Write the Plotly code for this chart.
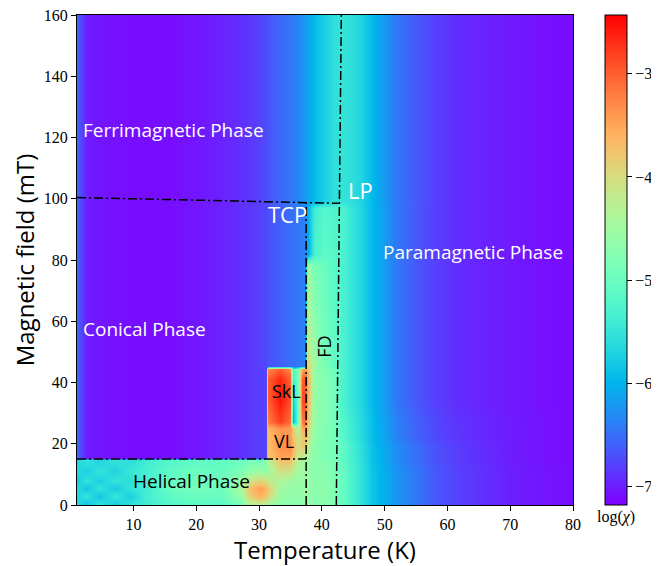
import numpy as np
import plotly.graph_objects as go

# ---------------- data ----------------
temperature_K = [1.0, 2.5, 4.5, 7, 9.5, 12, 16, 20, 24, 27, 28.5, 30,
                 31.1, 31.5, 33.3, 35.0, 35.4, 36.2, 36.9, 37.3,
                 37.8, 38.8, 40.3, 41.8,
                 43.0, 44.5, 46, 48, 50, 52, 55, 58, 62, 66, 70, 75, 80]
field_mT = [0, 3, 5.5, 8, 11, 14.7, 15.3, 19, 23, 25, 27, 34, 41, 44.5,
            45.5, 50, 60, 78, 82, 97, 99, 120, 160]

# column segments: A = T 1..30, B = T 31..37.3, C = T 37.8..41.8, D = T 43..80
A_conical = [-6.55, -7.0, -7.06, -7.08, -7.1, -7.1, -7.1, -7.05, -6.98, -6.9, -6.85, -6.8]
B_upper = [-6.75, -6.7, -6.6, -6.5, -6.48, -6.44, -6.4, -6.38]
B_top = [-6.72, -6.68, -6.55, -6.45, -6.42, -6.35, -6.28, -6.22]
C_top = [-6.1, -5.95, -5.75, -5.58]
D_helical = [-5.0, -5.25, -5.5, -5.85, -6.05, -6.25, -6.45, -6.65, -6.8, -6.9, -7.0, -7.06, -7.1]
D_vl = [-5.05, -5.3, -5.54, -5.88, -6.09, -6.3, -6.5, -6.69, -6.83, -6.92, -7.01, -7.07, -7.11]
D_mid = [-5.15, -5.38, -5.6, -5.92, -6.15, -6.38, -6.58, -6.75, -6.88, -6.95, -7.02, -7.07, -7.11]
D_upper = [-5.25, -5.45, -5.65, -5.95, -6.2, -6.45, -6.65, -6.8, -6.92, -6.98, -7.03, -7.08, -7.12]
D_top = [-5.5, -5.55, -5.68, -5.95, -6.22, -6.44, -6.64, -6.8, -6.92, -6.98, -7.03, -7.08, -7.12]

log_chi = [
    [-5.6, -5.9, -5.5, -5.8, -5.5, -5.4, -5.2, -5.1, -5.15, -4.95, -4.4, -4.3]
    + [-4.4, -4.6, -4.7, -4.7, -4.7, -4.7, -4.65, -4.6] + [-4.6, -4.75, -4.7, -4.8] + D_helical,
    [-5.7, -5.5, -5.85, -5.45, -5.75, -5.35, -5.1, -5.0, -5.05, -4.6, -3.85, -3.6]
    + [-3.75, -3.95, -4.55, -4.6, -4.65, -4.65, -4.6, -4.55] + [-4.6, -4.75, -4.65, -4.8] + D_helical,
    [-5.6, -5.85, -5.5, -5.8, -5.5, -5.4, -5.0, -4.9, -5.0, -4.45, -3.7, -3.45]
    + [-3.6, -3.8, -4.5, -4.6, -4.6, -4.6, -4.6, -4.5] + [-4.55, -4.7, -4.65, -4.8] + D_helical,
    [-5.8, -5.5, -5.75, -5.5, -5.6, -5.3, -5.05, -4.95, -5.0, -4.6, -4.1, -3.9]
    + [-4.0, -4.2, -4.4, -4.5, -4.55, -4.6, -4.55, -4.5] + [-4.6, -4.7, -4.7, -4.8] + D_helical,
    [-5.6, -5.75, -5.5, -5.7, -5.45, -5.35, -5.1, -5.0, -5.05, -4.85, -4.65, -4.55]
    + [-4.6, -4.5, -4.05, -4.1, -4.3, -4.5, -4.5, -4.5] + [-4.6, -4.7, -4.7, -4.85] + D_helical,
    [-5.7, -5.5, -5.7, -5.5, -5.6, -5.4, -5.2, -5.1, -5.1, -5.0, -4.9, -4.9]
    + [-4.8, -4.3, -3.7, -3.7, -4.0, -4.3, -4.4, -4.5] + [-4.6, -4.7, -4.75, -4.85] + D_vl,
    A_conical + [-6.78, -3.8, -3.5, -3.5, -3.8, -4.2, -4.3, -4.4] + [-4.5, -4.7, -4.8, -4.9] + D_vl,
    A_conical + [-6.78, -3.7, -3.35, -3.3, -3.6, -4.0, -3.8, -3.9] + [-4.3, -4.7, -4.8, -4.9] + D_vl,
    A_conical + [-6.78, -3.7, -3.4, -3.4, -3.8, -4.2, -3.8, -3.6] + [-4.0, -4.65, -4.8, -4.9] + D_mid,
    A_conical + [-6.78, -3.6, -3.35, -3.4, -3.9, -4.4, -3.5, -3.4] + [-3.9, -4.65, -4.8, -4.9] + D_mid,
    A_conical + [-6.78, -3.2, -2.8, -3.1, -6.0, -4.9, -3.2, -3.1] + [-3.8, -4.6, -4.75, -4.9] + D_mid,
    A_conical + [-6.78, -3.0, -2.55, -2.9, -5.8, -4.9, -2.9, -2.9] + [-3.6, -4.6, -4.75, -4.9] + D_upper,
    A_conical + [-6.78, -3.0, -2.65, -3.0, -5.4, -4.8, -3.0, -3.0] + [-3.6, -4.6, -4.75, -4.9] + D_upper,
    A_conical + [-6.78, -3.3, -3.0, -3.3, -5.2, -4.8, -3.5, -3.4] + [-3.8, -4.6, -4.8, -4.95] + D_upper,
    A_conical + B_upper + [-3.9, -4.5, -4.85, -5.05] + D_upper,
    A_conical + B_upper + [-4.1, -4.6, -4.9, -5.05] + D_upper,
    A_conical + B_upper + [-4.3, -4.7, -4.95, -5.1] + D_upper,
    A_conical + B_upper + [-4.5, -4.85, -5.0, -5.15] + D_upper,
    A_conical + B_upper + [-6.1, -5.3, -5.1, -5.2] + D_upper,
    A_conical + B_upper + [-6.0, -5.4, -5.2, -5.25] + D_upper,
    A_conical + B_top + C_top + D_top,
    A_conical + B_top + C_top + D_top,
    A_conical + B_top + C_top + D_top,
]

# phase boundary lines (dash-dot)
lp_line_T, lp_line_H = [1.0, 42.7], [100.4, 98.5]
fd_line_T, fd_line_H = [42.3, 43.1], [0, 160]
tcp_line_T, tcp_line_H = [37.5, 37.5], [0, 98.6]
helical_line_T, helical_line_H = [1.0, 37.5], [15, 15]

label_text = ["Ferrimagnetic Phase", "Conical Phase", "Paramagnetic Phase", "Helical Phase",
              "SkL", "VL", "TCP", "LP"]
label_T = [1.62, 1.62, 49.4, 9.6, 34.3, 34.0, 34.5, 46.2]
label_H = [122.4, 57.5, 82.6, 7.8, 37.2, 20.9, 95.0, 102.9]
label_color = ["white", "white", "white", "black", "black", "black", "white", "white"]
label_size = [19, 19, 19, 19, 18, 18, 22, 22]
label_anchor = ["left", "left", "left", "left", "center", "center", "center", "center"]

# ---------------- matplotlib 'rainbow' colour map ----------------
s = np.linspace(0, 1, 41)
r = np.clip(np.abs(2 * s - 0.5), 0, 1)
g = np.clip(np.sin(np.pi * s), 0, 1)
b = np.clip(np.cos(np.pi * s / 2), 0, 1)
rainbow = [[float(v), f"rgb({int(round(rr*255))},{int(round(gg*255))},{int(round(bb*255))})"]
           for v, rr, gg, bb in zip(s, r, g, b)]

fig = go.Figure()
fig.add_trace(go.Heatmap(
    x=temperature_K, y=field_mT, z=log_chi, coloraxis="coloraxis",
    zsmooth="best", hoverinfo="skip"))

dash = "9px,3px,2px,3px"
for tx, hy in [(lp_line_T, lp_line_H), (fd_line_T, fd_line_H),
               (tcp_line_T, tcp_line_H), (helical_line_T, helical_line_H)]:
    fig.add_trace(go.Scatter(x=tx, y=hy, mode="lines",
                             line=dict(color="black", width=1.5, dash=dash),
                             hoverinfo="skip", showlegend=False))

sans = "Open Sans"
serif = "Liberation Serif"
for t, xx, yy, c, sz, an in zip(label_text, label_T, label_H, label_color, label_size, label_anchor):
    fig.add_annotation(x=xx, y=yy, text=t, showarrow=False, xanchor=an, yanchor="middle",
                       font=dict(family=sans, size=sz, color=c))
fig.add_annotation(x=40.3, y=51.6, text="FD", showarrow=False, textangle=-90,
                   font=dict(family=sans, size=18, color="black"))
fig.add_annotation(xref="paper", yref="paper", x=1.0867, y=-0.025, text="log(<i>χ</i>)",
                   showarrow=False, xanchor="center", yanchor="middle",
                   font=dict(family=serif, size=16, color="black"))

axis_common = dict(showgrid=False, zeroline=False, showline=True, linecolor="black",
                   linewidth=1, mirror=True, ticks="outside", ticklen=5, tickwidth=1,
                   tickcolor="black", automargin=False, ticklabeloverflow="allow",
                   tickfont=dict(family=serif, size=16, color="black"))
fig.update_xaxes(range=[1, 80], tickvals=[10, 20, 30, 40, 50, 60, 70, 80],
                 title=dict(text="Temperature (K)", font=dict(family=sans, size=24, color="black"),
                            standoff=5), **axis_common)
fig.update_yaxes(range=[0, 160], tickvals=[0, 20, 40, 60, 80, 100, 120, 140, 160],
                 title=dict(text="Magnetic field (mT)", font=dict(family=sans, size=24, color="black"),
                            standoff=5), **axis_common)

# the page body has an 8 px margin, so the figure is 8 px smaller and shifted
fig.update_layout(
    width=651, height=558, margin=dict(l=69, r=86, t=7, b=61, autoexpand=False),
    paper_bgcolor="white", plot_bgcolor="white", showlegend=False,
    coloraxis=dict(colorscale=rainbow, cmin=-7.18, cmax=-2.43,
                   colorbar=dict(x=1.0645, xanchor="left", xpad=0, y=0.5, yanchor="middle",
                                 len=1, lenmode="fraction", ypad=0, thickness=22,
                                 outlinewidth=1, outlinecolor="black",
                                 tickvals=[-7, -6, -5, -4, -3], ticks="outside", ticklen=5,
                                 tickcolor="black",
                                 tickfont=dict(family=serif, size=16, color="black"))),
)

fig.write_html("out.html")
